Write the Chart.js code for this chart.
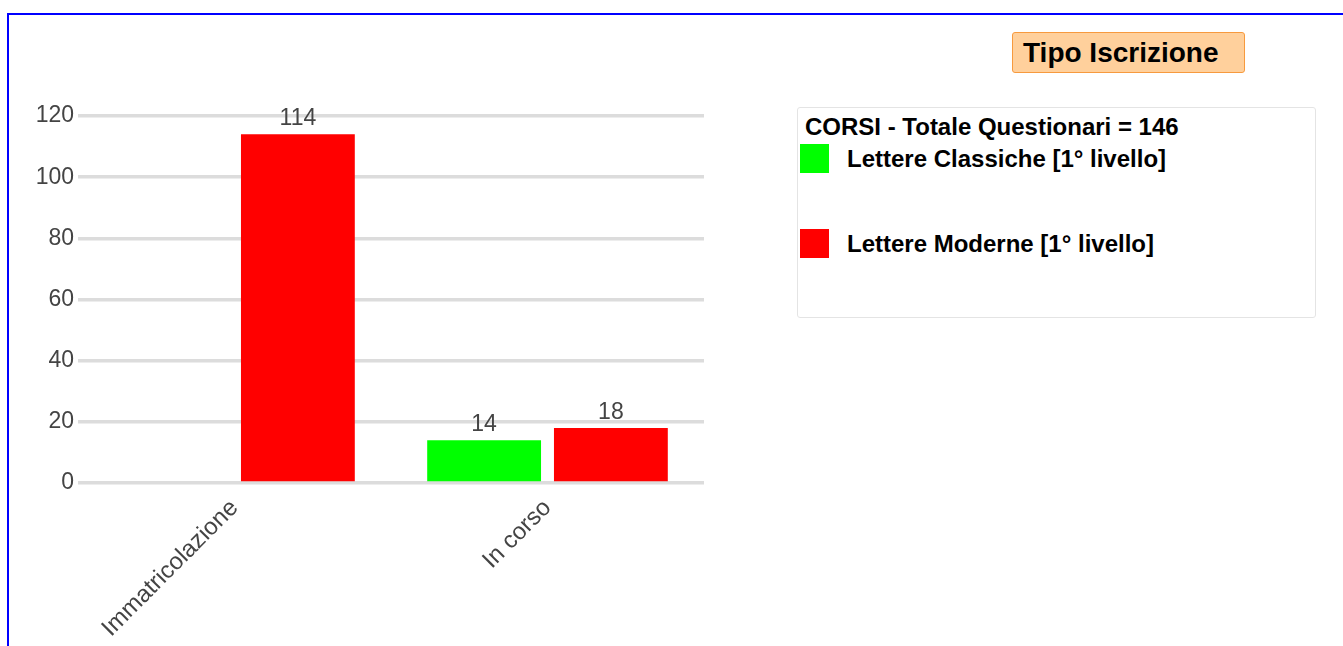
<!DOCTYPE html>
<html>
<head>
<meta charset="utf-8">
<script src="https://cdn.jsdelivr.net/npm/chart.js@4.4.1/dist/chart.umd.min.js"></script>
<style>
    html, body { margin: 0; padding: 0; background: #fff; overflow: hidden; }
    body { width: 1343px; height: 646px; position: relative; font-family: "Liberation Sans", Arial, sans-serif; }
    .frame { position: absolute; left: 7px; top: 13px; width: 1400px; height: 700px; border-top: 2px solid #0000ff; border-left: 2px solid #0000ff; }
    #chartWrap { position: absolute; left: 0; top: 0; width: 1343px; height: 646px; }
    .title-box {
        position: absolute; left: 1012px; top: 32px; height: 39px; width: 221px;
        background: #ffd09c; border: 1px solid #f79a3e; border-radius: 3px;
        font-weight: bold; font-size: 28px; line-height: 39px; color: #000;
        padding-left: 10px; white-space: nowrap;
    }
    .legend-box {
        position: absolute; left: 797px; top: 107px; width: 517px; height: 209px;
        border: 1px solid #e4e4e4; border-radius: 3px; background: #fff;
    }
    .legend-head { position: absolute; left: 7px; top: 5px; font-weight: bold; font-size: 24px; color: #000; white-space: nowrap; }
    .legend-item { position: absolute; left: 2px; height: 29px; white-space: nowrap; }
    .legend-item .sw { position: absolute; left: 0; top: 0; width: 29px; height: 29px; }
    .legend-item .lbl { position: absolute; left: 47px; top: 1px; font-weight: bold; font-size: 24px; color: #000; }
</style>
</head>
<body>
<div class="frame"></div>
<div id="chartWrap"><canvas id="tipoChart" width="1343" height="646"></canvas></div>
<div class="title-box">Tipo Iscrizione</div>
<div class="legend-box" id="legendBox">
    <div class="legend-head" id="legendHead"></div>
</div>

<script>
// ====================== //
// DATI                   //
// ====================== //
const categories = ['Immatricolazione', 'In corso'];
const seriesNames = ['Lettere Classiche [1° livello]', 'Lettere Moderne [1° livello]'];
const seriesColors = ['#00ff00', '#ff0000'];
const classicheValues = [null, 14];
const moderneValues = [114, 18];
const yTicks = [0, 20, 40, 60, 80, 100, 120];
const totaleQuestionari = 146;

const FONT = '"Liberation Sans", Arial, sans-serif';

// etichette sopra le barre
const valueLabels = {
    id: 'valueLabels',
    afterDatasetsDraw(chart) {
        const ctx = chart.ctx;
        ctx.save();
        ctx.font = '23px ' + FONT;
        ctx.fillStyle = '#444444';
        ctx.textAlign = 'center';
        ctx.textBaseline = 'alphabetic';
        chart.data.datasets.forEach((ds, i) => {
            const meta = chart.getDatasetMeta(i);
            meta.data.forEach((bar, j) => {
                const v = ds.data[j];
                if (v === null || v === undefined) return;
                ctx.fillText(String(v), bar.x, bar.y - 9);
            });
        });
        ctx.restore();
    }
};

new Chart(document.getElementById('tipoChart'), {
    type: 'bar',
    data: {
        labels: categories,
        datasets: [
            { label: seriesNames[0], data: classicheValues, backgroundColor: seriesColors[0] },
            { label: seriesNames[1], data: moderneValues, backgroundColor: seriesColors[1] }
        ]
    },
    options: {
        responsive: false,
        animation: false,
        maintainAspectRatio: false,
        devicePixelRatio: 1,
        categoryPercentage: 0.81,
        barPercentage: 0.898,
        layout: { padding: { left: 0, top: 116, right: 639, bottom: 0 } },
        plugins: {
            legend: { display: false },
            title: { display: false },
            tooltip: { enabled: false }
        },
        scales: {
            y: {
                min: 0,
                max: 120,
                afterFit(scale) { scale.width = 78; },
                afterBuildTicks(scale) { scale.ticks = yTicks.map(v => ({ value: v })); },
                grid: { color: '#dcdcdc', lineWidth: 3.5, drawTicks: false },
                border: { display: false },
                ticks: { color: '#444444', font: { family: FONT, size: 23 }, padding: 4 }
            },
            x: {
                afterFit(scale) { scale.height = 163; },
                grid: { display: false },
                border: { display: false },
                ticks: {
                    color: '#444444',
                    font: { family: FONT, size: 24 },
                    minRotation: 45,
                    maxRotation: 45,
                    padding: 3
                }
            }
        }
    },
    plugins: [valueLabels]
});

// legenda html
document.getElementById('legendHead').textContent = 'CORSI - Totale Questionari = ' + totaleQuestionari;
const legendBox = document.getElementById('legendBox');
const itemTops = [36, 121];
seriesNames.forEach((name, i) => {
    const item = document.createElement('div');
    item.className = 'legend-item';
    item.style.top = itemTops[i] + 'px';
    item.innerHTML = '<div class="sw" style="background:' + seriesColors[i] + '"></div><div class="lbl"></div>';
    item.querySelector('.lbl').textContent = name;
    legendBox.appendChild(item);
});
</script>
</body>
</html>
